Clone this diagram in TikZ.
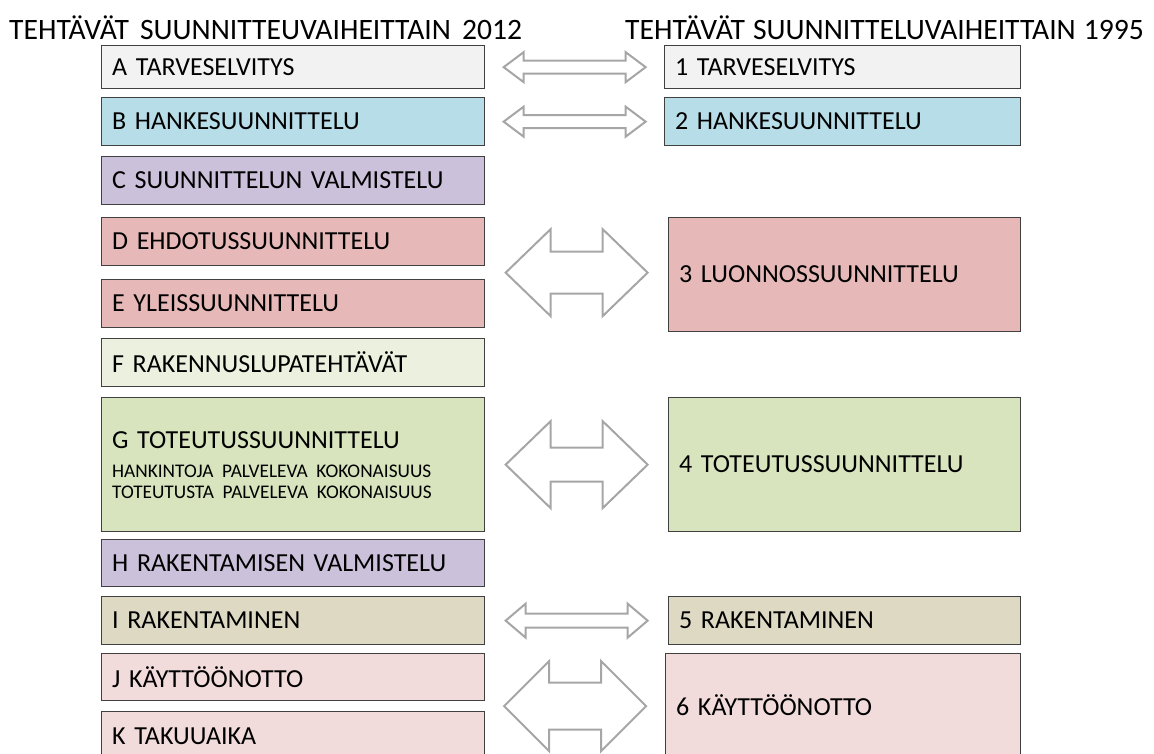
\documentclass[tikz,border=0pt]{standalone}
\usepackage{fontspec}
\setmainfont{Carlito}
\usetikzlibrary{calc}

\definecolor{boxline}{HTML}{404040}
\definecolor{arrowgray}{HTML}{A6A6A6}
\definecolor{cA}{HTML}{F2F2F2}
\definecolor{cB}{HTML}{B7DEE8}
\definecolor{cC}{HTML}{CCC1DA}
\definecolor{cD}{HTML}{E6B9B8}
\definecolor{cF}{HTML}{EBF1DE}
\definecolor{cG}{HTML}{D7E4BD}
\definecolor{cI}{HTML}{DDD9C3}
\definecolor{cJ}{HTML}{F2DCDB}

% double-headed block arrow: centre, half length, head length, head half height, shaft half height
\newcommand\dblarrow[5]{%
  \draw[blockarrow, shift={(#1)}]
    (-#2,0) -- ({-#2+#3},-#4) -- ({-#2+#3},-#5) -- ({#2-#3},-#5) -- ({#2-#3},-#4)
    -- (#2,0) -- ({#2-#3},#4) -- ({#2-#3},#5) -- ({-#2+#3},#5) -- ({-#2+#3},#4) -- cycle;}

\begin{document}
\begin{tikzpicture}[x=1pt,y=-1pt,
  phase/.style={draw=boxline, line width=1.3pt, inner xsep=10.5pt, inner ysep=0pt,
    anchor=north west, align=left, text=black,
    font=\fontsize{26}{30}\selectfont},
  lphase/.style={phase, text width=362pt},
  rphase/.style={phase, text width=331pt},
  heading/.style={anchor=base west, inner sep=0pt, text=black,
    font=\fontsize{29.6}{34}\selectfont},
  blockarrow/.style={draw=arrowgray, line width=2pt, fill=white, line join=miter}]
\useasboundingbox (0,0) rectangle (1154,754);
\clip (0,0) rectangle (1154,754);

% headings
\node[heading] (h2012) at (9,40) {TEHTÄVÄT\hspace{11pt}SUUNNITTEUVAIHEITTAIN\hspace{11pt}2012};
\node[heading] (h1995) at (625,40) {TEHTÄVÄT\hspace{8pt}SUUNNITTELUVAIHEITTAIN\hspace{8pt}1995};

% phases 2012
\node[lphase, fill=cA, minimum height=43pt] (A) at (101,45) {A TARVESELVITYS};
\node[lphase, fill=cB, minimum height=48pt] (B) at (101,97) {B HANKESUUNNITTELU};
\node[lphase, fill=cC, minimum height=48pt] (C) at (101,156) {C SUUNNITTELUN VALMISTELU};
\node[lphase, fill=cD, minimum height=48pt] (D) at (101,217) {D EHDOTUSSUUNNITTELU};
\node[lphase, fill=cD, minimum height=48pt] (E) at (101,279) {E YLEISSUUNNITTELU};
\node[lphase, fill=cF, minimum height=48pt] (F) at (101,338) {F RAKENNUSLUPATEHTÄVÄT};
\node[lphase, fill=cG, minimum height=134pt, font=\fontsize{26}{21}\selectfont] (G) at (101,397)
  {G TOTEUTUSSUUNNITTELU\\[8pt]{\fontsize{19.3}{21}\selectfont
   HANKINTOJA PALVELEVA KOKONAISUUS}\\{\fontsize{19.3}{21}\selectfont TOTEUTUSTA PALVELEVA KOKONAISUUS}};
\node[lphase, fill=cC, minimum height=47pt] (H) at (101,539) {H RAKENTAMISEN VALMISTELU};
\node[lphase, fill=cI, minimum height=48pt] (I) at (101,596) {I RAKENTAMINEN};
\node[lphase, fill=cJ, minimum height=47pt] (J) at (101,653) {J KÄYTTÖÖNOTTO};
\node[lphase, fill=cJ, minimum height=50pt] (K) at (101,711) {K TAKUUAIKA};

% phases 1995
\node[phase, text width=335pt, fill=cA, minimum height=43pt] (p1) at (664,45) {1 TARVESELVITYS};
\node[phase, text width=335pt, fill=cB, minimum height=48pt] (p2) at (664,97) {2 HANKESUUNNITTELU};
\node[rphase, fill=cD, minimum height=114pt] (p3) at (668,217) {3 LUONNOSSUUNNITTELU};
\node[rphase, fill=cG, minimum height=134pt] (p4) at (668,397) {4 TOTEUTUSSUUNNITTELU};
\node[rphase, fill=cI, minimum height=48pt] (p5) at (668,596) {5 RAKENTAMINEN};
\node[phase, text width=334pt, fill=cJ, minimum height=104pt] (p6) at (665,653) {6 KÄYTTÖÖNOTTO};

% correspondence arrows
\coordinate (mA) at ($(A.east)!0.5!(p1.west)$);
\coordinate (mB) at ($(B.east)!0.5!(p2.west)$);
\coordinate (de) at ($(D.south east)!0.5!(E.north east)$);
\coordinate (m3) at ($(de)!0.5!(de -| p3.west)$);
\coordinate (m4) at ($(G.east)!0.5!(G.east -| p4.west)$);
\coordinate (mI) at ($(I.east)!0.5!(I.east -| p5.west)$);
\coordinate (jk) at ($(J.south east)!0.5!(K.north east)$);
\coordinate (m6) at ($(jk)!0.5!(jk -| p6.west)$);

\dblarrow{mA}{71}{20}{15}{6.5}
\dblarrow{mB}{71}{20}{15}{6.5}
\dblarrow{m3}{71}{45}{43.5}{21}
\dblarrow{m4}{71}{45}{43.5}{17}
\dblarrow{mI}{71}{20}{17}{7}
\dblarrow{m6}{71}{45}{45}{23.5}
\end{tikzpicture}
\end{document}
